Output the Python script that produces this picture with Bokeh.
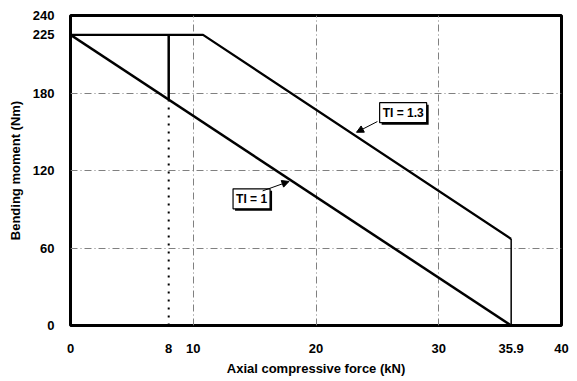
from bokeh.plotting import figure
from bokeh.models import FixedTicker, Label, Arrow, NormalHead
from bokeh.embed import file_html
from bokeh.resources import INLINE

# ---- data ----
x_ticks = [0, 8, 10, 20, 30, 35.9, 40]
y_ticks = [0, 60, 120, 180, 225, 240]
x_grid = [10, 20, 30]
y_grid = [60, 120, 180]

ti1_force = [0, 35.9]
ti1_moment = [225, 0]

ti13_force = [0, 10.8, 35.9]
ti13_moment = [225, 225, 67]

end_force = [35.9, 35.9]
end_moment = [67, 0]

cut_force = [8, 8]
cut_moment = [225, 175]

dot_force = [8, 8]
dot_moment = [175, 0]

FONT = "Liberation Sans"

p = figure(width=570, height=378, output_backend="svg", toolbar_location=None,
           x_range=(0, 40), y_range=(0, 240),
           min_border_left=70, min_border_right=9, min_border_top=15, min_border_bottom=50)

p.outline_line_color = "black"
p.outline_line_width = 3

for ax in (p.xaxis[0], p.yaxis[0]):
    ax.axis_line_color = None
    ax.major_tick_line_color = None
    ax.minor_tick_line_color = None
    ax.major_label_text_font = FONT
    ax.major_label_text_font_style = "bold"
    ax.major_label_text_font_size = "13px"
    ax.major_label_text_color = "black"
    ax.axis_label_text_font = FONT
    ax.axis_label_text_font_style = "bold"
    ax.axis_label_text_font_size = "13px"
    ax.axis_label_text_color = "black"

p.xaxis.ticker = FixedTicker(ticks=x_ticks)
p.yaxis.ticker = FixedTicker(ticks=y_ticks)
p.xaxis.major_label_overrides = {35.9: "35.9"}
p.xaxis.major_label_standoff = 12
p.yaxis.major_label_standoff = 10
p.xaxis.axis_label = "Axial compressive force (kN)"
p.yaxis.axis_label = "Bending moment (Nm)"
p.xaxis.axis_label_standoff = 5
p.yaxis.axis_label_standoff = 7

p.xgrid.ticker = FixedTicker(ticks=x_grid)
p.ygrid.ticker = FixedTicker(ticks=y_grid)
for g in (p.xgrid[0], p.ygrid[0]):
    g.grid_line_color = "#808080"
    g.grid_line_width = 1
    g.grid_line_dash = "7 3 1 3"

p.line(ti1_force, ti1_moment, line_color="black", line_width=2.5)
p.line(ti13_force, ti13_moment, line_color="black", line_width=2.2)
p.line(end_force, end_moment, line_color="black", line_width=1.5)
p.line(cut_force, cut_moment, line_color="black", line_width=2.5)
p.line(dot_force, dot_moment, line_color="black", line_width=2, line_dash="2 6")

def boxed(x, y, txt):
    shadow = Label(x=x, y=y, text=txt, text_align="center", text_baseline="middle",
                   x_offset=2, y_offset=-2, text_font=FONT, text_font_style="bold",
                   text_font_size="12px", text_color="black",
                   background_fill_color="black", padding=3)
    lab = Label(x=x, y=y, text=txt, text_align="center", text_baseline="middle",
                text_font=FONT, text_font_style="bold", text_font_size="12px",
                text_color="black", background_fill_color="white",
                border_line_color="black", border_line_width=1.2, padding=3)
    p.add_layout(shadow)
    p.add_layout(lab)

boxed(27.1, 164.8, "TI = 1.3")
boxed(14.75, 98.1, "TI = 1")

p.add_layout(Arrow(x_start=25.0, y_start=157.9, x_end=23.3, y_end=149.6,
                   line_color="black", line_width=1,
                   end=NormalHead(size=7, fill_color="black", line_color="black")))
p.add_layout(Arrow(x_start=15.65, y_start=104.2, x_end=17.8, y_end=111.5,
                   line_color="black", line_width=1,
                   end=NormalHead(size=7, fill_color="black", line_color="black")))

open("out.html", "w").write(file_html(p, INLINE))
